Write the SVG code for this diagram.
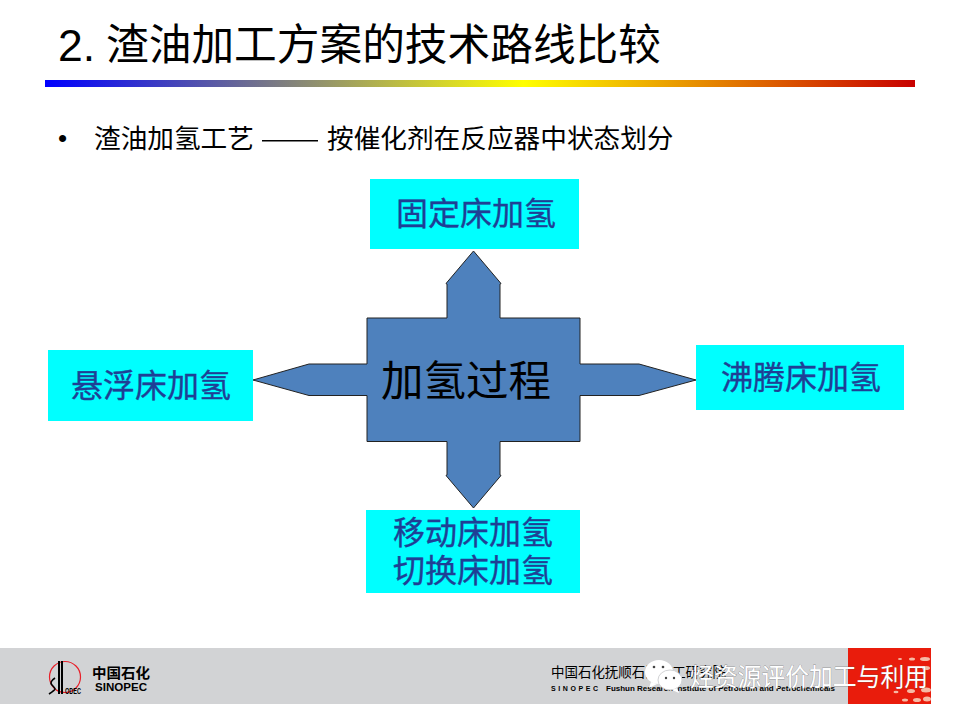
<svg xmlns="http://www.w3.org/2000/svg" width="960" height="720" viewBox="0 0 960 720">
<style>
text{font-family:"Liberation Sans","Noto Sans CJK SC",sans-serif}
.lab{font-size:32px;fill:#1f3f95;stroke:#1f3f95;stroke-width:.35px;text-anchor:middle}
.box{fill:#00ffff}
.bk{fill:#000}
.wm{fill:#fff;font-size:25.5px;stroke:#555;stroke-width:.4px;paint-order:stroke}
</style>
<defs>
<linearGradient id="bar"><stop offset="0" stop-color="#0000ff"/><stop offset=".55" stop-color="#ffff00"/><stop offset="1" stop-color="#c80000"/></linearGradient>
</defs>
<rect width="960" height="720" fill="#fff"/>
<g id="header">
<text x="58" y="61" font-size="44.500" class="bk">2.</text>
<text x="106" y="60" font-size="42.670" class="bk" textLength="555" lengthAdjust="spacingAndGlyphs">渣油加工方案的技术路线比较</text>
<rect x="45" y="80" width="870" height="7" fill="url(#bar)"/>
<text x="58" y="147" font-size="26" class="bk">•</text>
<text x="94" y="148" font-size="26.670" class="bk">渣油加氢工艺</text>
<rect x="262" y="140" width="56" height="1.500" class="bk"/>
<text x="327" y="148" font-size="26.670" class="bk">按催化剂在反应器中状态划分</text>
</g>
<g id="connectors">
<path d="M367 318H447V284L446 283.500 473.500 251 501 283.500 500 284V318H580V364H639L696 380 639 395.500H580V441.500H500V475L501 475.500 473.500 508 446 475.500 447 475V441.500H367V395.500H309L253 380 309 364H367Z" fill="#4e81bd" stroke="#222" stroke-width="1"/>
</g>
<g id="node-center"><text x="466" y="396" font-size="42.500" class="bk" text-anchor="middle">加氢过程</text></g>
<g id="node-top"><rect class="box" x="370" y="179" width="209" height="70"/><text class="lab" x="476" y="225">固定床加氢</text></g>
<g id="node-left"><rect class="box" x="48" y="350" width="205" height="71"/><text class="lab" x="151" y="397">悬浮床加氢</text></g>
<g id="node-right"><rect class="box" x="696" y="345" width="208" height="65"/><text class="lab" x="801" y="389">沸腾床加氢</text></g>
<g id="node-bottom"><rect class="box" x="366" y="510" width="214" height="83"/><text class="lab"><tspan x="473" y="544">移动床加氢</tspan><tspan x="473" y="582">切换床加氢</tspan></text></g>
<g id="footer">
<rect x="0" y="648" width="848" height="56" fill="#d2d3d5"/>
<rect x="848" y="648" width="83" height="56" fill="#e91c0c"/>
<g fill="#f6b9a4"><ellipse cx="925" cy="659" rx="5" ry="2"/><ellipse cx="912" cy="659" rx="3" ry="1.500"/><ellipse cx="900" cy="659" rx="2" ry="1"/><ellipse cx="926" cy="668" rx="4" ry="2"/><ellipse cx="905" cy="700" rx="3" ry="1.500"/><ellipse cx="917" cy="700" rx="4" ry="2"/><ellipse cx="927" cy="699" rx="4" ry="2.500"/><ellipse cx="926" cy="690" rx="5" ry="2.500"/><ellipse cx="911" cy="691" rx="4" ry="2"/><ellipse cx="896" cy="692" rx="2.500" ry="1.200"/></g>
<g id="logo">
<circle cx="65" cy="677" r="15.500" fill="none" stroke="#e8202a" stroke-width="1.200"/>
<rect x="58" y="661" width="2" height="33" class="bk"/><rect x="61" y="661" width="2" height="33" class="bk"/>
<path d="M55 678q-6 4-3 7t3 4t-6 5" fill="none" stroke="#000" stroke-width="1.600"/>
<text x="65" y="694" font-size="9" font-weight="bold" class="bk" textLength="16" lengthAdjust="spacingAndGlyphs">ODEC</text>
<text x="92" y="678" font-size="14" font-weight="bold" class="bk" textLength="58" lengthAdjust="spacingAndGlyphs">中国石化</text>
<text x="95" y="691" font-size="10.500" font-weight="bold" class="bk" textLength="52" lengthAdjust="spacingAndGlyphs">SINOPEC</text>
</g>
<text x="551" y="677" font-size="13.500" class="bk" textLength="175" lengthAdjust="spacingAndGlyphs">中国石化抚顺石油化工研究院</text>
<text x="551" y="691" font-size="7" font-weight="bold" class="bk" textLength="47" lengthAdjust="spacing">S I N O P E C</text>
<text x="606" y="691" font-size="7.500" font-weight="bold" class="bk" textLength="229" lengthAdjust="spacingAndGlyphs">Fushun Research Institute of Petroleum and Petrochemicals</text>
</g>
<g id="watermark">
<ellipse cx="659" cy="672" rx="14" ry="12" fill="#fff"/><path d="M651 682l-2 6 8-4z" fill="#fff"/>
<ellipse cx="670" cy="680" rx="12" ry="10" fill="#fff" stroke="#d2d3d5" stroke-width="1"/><path d="M677 688l2 5-7-3z" fill="#fff"/>
<circle cx="654" cy="667" r="1.300" fill="#444"/><circle cx="663" cy="667" r="1.300" fill="#444"/><circle cx="666" cy="678" r="1.200" fill="#444"/><circle cx="674" cy="678" r="1.200" fill="#444"/>
<text class="wm" x="690" y="686" textLength="238" lengthAdjust="spacingAndGlyphs">烃资源评价加工与利用</text>
</g>
</svg>
